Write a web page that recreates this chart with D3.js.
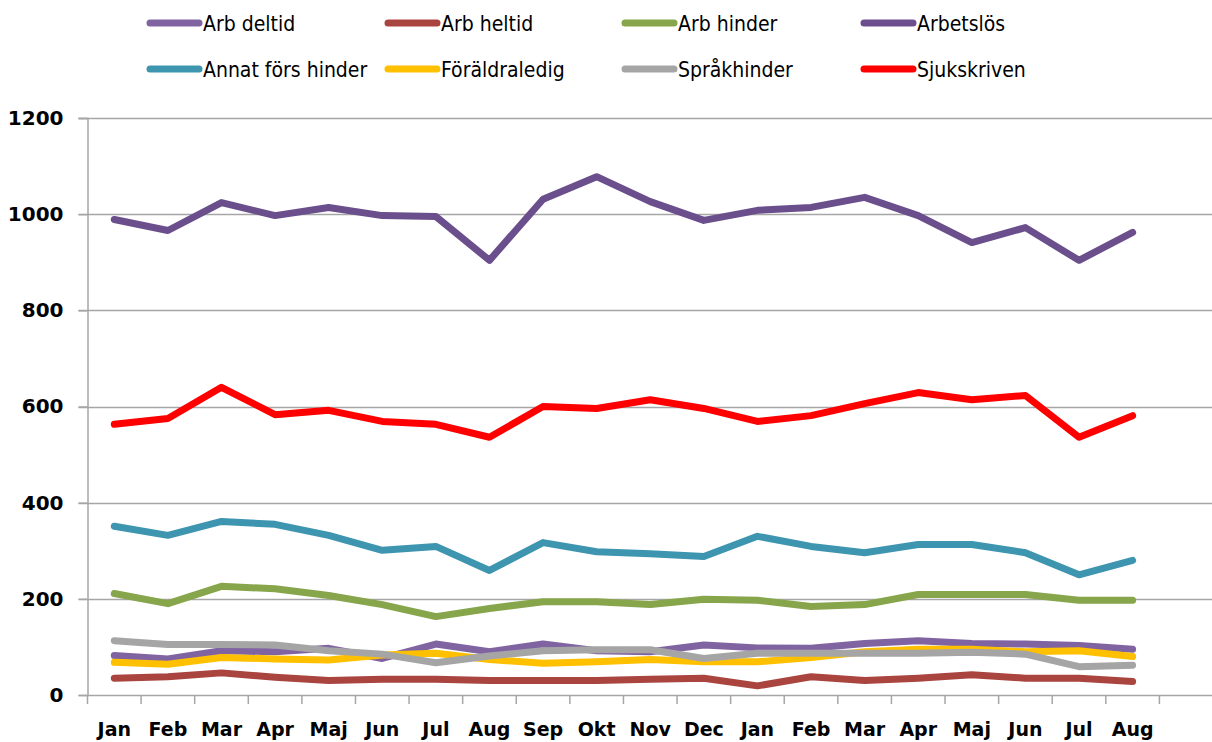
<!DOCTYPE html>
<html>
<head>
<meta charset="utf-8">
<script src="https://cdn.jsdelivr.net/npm/d3@7"></script>
<style>
  html, body { margin: 0; padding: 0; background: #fff; }
  svg { display: block; }
</style>
</head>
<body>
<div id="chart"></div>
<script>
// ---- data ----
const months = ["Jan","Feb","Mar","Apr","Maj","Jun","Jul","Aug","Sep","Okt","Nov","Dec",
                "Jan","Feb","Mar","Apr","Maj","Jun","Jul","Aug"];
const yTicks = [0, 200, 400, 600, 800, 1000, 1200];

const seriesNames = ["Arb deltid","Arb heltid","Arb hinder","Arbetslös",
                     "Annat förs hinder","Föräldraledig","Språkhinder","Sjukskriven"];
const seriesColors = ["#8064A2","#A9443F","#87A54A","#6A4F8C",
                      "#3E95B0","#FFC000","#A5A5A5","#FF0000"];

const arbDeltid      = [82, 75, 92, 90, 97, 76, 106, 90, 106, 92, 90, 104, 98, 97, 107, 113, 107, 106, 103, 95];
const arbHeltid      = [35, 38, 46, 37, 30, 33, 33, 30, 30, 30, 33, 35, 19, 38, 30, 35, 42, 35, 35, 28];
const arbHinder      = [211, 190, 226, 221, 207, 188, 163, 180, 194, 194, 188, 199, 197, 184, 188, 209, 209, 209, 197, 197];
const arbetslos      = [989, 966, 1024, 997, 1014, 997, 995, 904, 1031, 1078, 1026, 987, 1008, 1014, 1035, 997, 941, 972, 904, 962];
const annatForsHinder= [351, 332, 361, 355, 332, 301, 309, 259, 317, 298, 294, 288, 330, 309, 296, 313, 313, 296, 250, 280];
const foraldraledig  = [68, 64, 78, 75, 73, 83, 87, 74, 66, 69, 74, 69, 69, 78, 90, 95, 95, 90, 92, 80];
const sprakhinder    = [113, 105, 105, 104, 92, 85, 67, 81, 92, 94, 94, 76, 87, 87, 87, 87, 89, 85, 59, 62];
const sjukskriven    = [563, 575, 640, 583, 592, 569, 563, 536, 600, 596, 614, 596, 569, 581, 606, 629, 614, 623, 536, 581];

const seriesValues = [arbDeltid, arbHeltid, arbHinder, arbetslos,
                      annatForsHinder, foraldraledig, sprakhinder, sjukskriven];

// ---- layout ----
const W = 1212, H = 742;
const plot = { left: 87.5, right: 1213, top: 118, bottom: 695 };
const nSlots = 21; // Excel axis has one trailing empty category

const svg = d3.select("#chart").append("svg")
  .attr("width", W).attr("height", H);

const x = d3.scaleBand()
  .domain(d3.range(nSlots))
  .range([plot.left, plot.right])
  .paddingInner(0).paddingOuter(0);

const y = d3.scaleLinear()
  .domain([0, 1200])
  .range([plot.bottom, plot.top]);

const gridColor = "#A6A6A6";

// gridlines (with outward tick stubs)
svg.append("g")
  .selectAll("line")
  .data(yTicks.filter(d => d > 0))
  .join("line")
  .attr("x1", plot.left - 9).attr("x2", plot.right)
  .attr("y1", d => Math.round(y(d)) + 0.5).attr("y2", d => Math.round(y(d)) + 0.5)
  .attr("stroke", gridColor).attr("stroke-width", 1.5);

// y axis
const yAxis = d3.axisLeft(y).tickValues(yTicks).tickFormat(d3.format("d"))
  .tickSize(9).tickPadding(15);
const gy = svg.append("g")
  .attr("transform", `translate(${plot.left},0)`)
  .call(yAxis);
gy.select(".domain").attr("stroke", gridColor).attr("stroke-width", 1.5);
gy.selectAll(".tick line").attr("stroke", gridColor).attr("stroke-width", 1.5);
gy.selectAll(".tick text")
  .attr("font-family", "'DejaVu Sans', Verdana, sans-serif")
  .attr("font-weight", "bold")
  .attr("font-size", 20)
  .attr("fill", "#000");

// x axis with ticks at category boundaries
const boundaries = d3.range(nSlots + 1).map(i => plot.left + i * x.bandwidth());
const gx = svg.append("g");
gx.append("line")
  .attr("x1", plot.left).attr("x2", plot.right)
  .attr("y1", plot.bottom + 0.5).attr("y2", plot.bottom + 0.5)
  .attr("stroke", gridColor).attr("stroke-width", 1.5);
gx.selectAll("line.tick")
  .data(boundaries)
  .join("line")
  .attr("class", "tick")
  .attr("x1", d => d).attr("x2", d => d)
  .attr("y1", plot.bottom).attr("y2", plot.bottom + 9)
  .attr("stroke", gridColor).attr("stroke-width", 1.5);
gx.selectAll("text")
  .data(months)
  .join("text")
  .attr("x", (d, i) => x(i) + x.bandwidth() / 2)
  .attr("y", 736)
  .attr("text-anchor", "middle")
  .attr("font-family", "'DejaVu Sans', Verdana, sans-serif")
  .attr("font-weight", "bold")
  .attr("font-size", 19)
  .attr("fill", "#000")
  .text(d => d);

// lines
const line = d3.line()
  .x((d, i) => x(i) + x.bandwidth() / 2)
  .y(d => y(d));

svg.append("g")
  .selectAll("path")
  .data(seriesValues)
  .join("path")
  .attr("d", d => line(d))
  .attr("fill", "none")
  .attr("stroke", (d, i) => seriesColors[i])
  .attr("stroke-width", 7)
  .attr("stroke-linejoin", "round")
  .attr("stroke-linecap", "round");

// legend
const legendCols = [147, 385, 622, 861];
const legendRows = [23, 69];
const lg = svg.append("g");
seriesNames.forEach((name, i) => {
  const cx = legendCols[i % 4];
  const cy = legendRows[Math.floor(i / 4)];
  lg.append("line")
    .attr("x1", cx + 3).attr("x2", cx + 52)
    .attr("y1", cy).attr("y2", cy)
    .attr("stroke", seriesColors[i])
    .attr("stroke-width", 7)
    .attr("stroke-linecap", "round");
  lg.append("text")
    .attr("x", cx + 56)
    .attr("y", cy + 8)
    .attr("font-family", "'DejaVu Sans Condensed', 'DejaVu Sans', sans-serif")
    .attr("font-stretch", "condensed")
    .attr("font-size", 21)
    .attr("fill", "#000")
    .text(name);
});
</script>
</body>
</html>
